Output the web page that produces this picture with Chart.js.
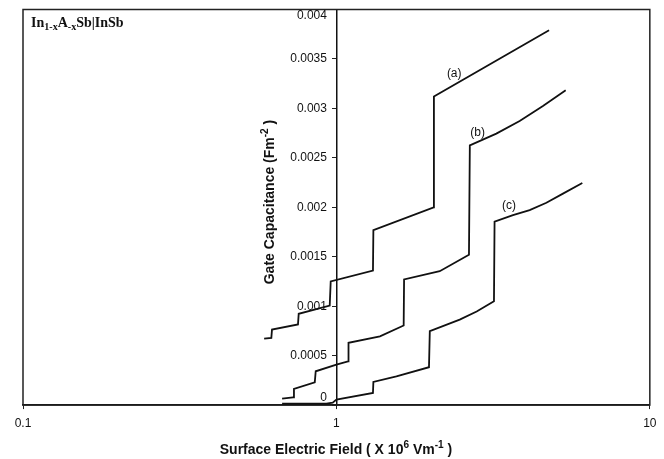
<!DOCTYPE html>
<html>
<head>
<meta charset="utf-8">
<script src="https://cdn.jsdelivr.net/npm/chart.js@4.4.1/dist/chart.umd.min.js"></script>
<style>
  html, body { margin: 0; padding: 0; background: #fff; }
</style>
</head>
<body>
<canvas id="capChart" width="664" height="459"></canvas>
<script>
// curve (a)
var fieldA = [0.588, 0.620, 0.623, 0.754, 0.758, 0.952, 0.959, 1.308, 1.312, 2.043, 2.047, 4.77];
var capA   = [0.000673, 0.00068, 0.000764, 0.000815, 0.000923, 0.001007, 0.00125, 0.00136, 0.00177, 0.0020, 0.00312, 0.00379];

// curve (b)
var fieldB = [0.671, 0.727, 0.732, 0.853, 0.859, 1.0, 1.089, 1.093, 1.377, 1.639, 1.644, 2.136, 2.648, 2.665, 3.238, 3.843, 4.56, 5.39];
var capB   = [0.000066, 0.000079, 0.000164, 0.000231, 0.000342, 0.00041, 0.000443, 0.00063, 0.000696, 0.000805, 0.00127, 0.001354, 0.00152, 0.002626, 0.002745, 0.002873, 0.003024, 0.003183];

// curve (c)
var fieldC = [0.671, 0.929, 0.973, 1.0, 1.308, 1.312, 1.554, 1.974, 1.986, 2.474, 2.802, 3.182, 3.196, 3.659, 4.136, 4.677, 5.283, 6.09];
var capC   = [0.000015, 0.000015, 0.000025, 0.000056, 0.000123, 0.000235, 0.000291, 0.000383, 0.000747, 0.000865, 0.000946, 0.00105, 0.001854, 0.001921, 0.001972, 0.002046, 0.002138, 0.002245];

// curve name tags, placed in data coordinates
var curveNames = ['(a)', '(b)', '(c)'];
var nameField  = [2.376, 2.823, 3.553];
var nameCap    = [0.003355, 0.002758, 0.002016];

var xTicks = [0.1, 1, 10];
var yTicks = [0, 0.0005, 0.001, 0.0015, 0.002, 0.0025, 0.003, 0.0035, 0.004];

var sansFont = "Arial, 'Liberation Sans', sans-serif";
var serifFont = "'Times New Roman', 'Liberation Serif', serif";

function toPoints(xs, ys) {
  return xs.map(function (v, i) { return { x: v, y: ys[i] }; });
}

function curve(label, xs, ys) {
  return {
    label: label,
    data: toPoints(xs, ys),
    borderColor: '#111',
    borderWidth: 1.8,
    pointRadius: 0,
    tension: 0,
    borderJoinStyle: 'miter',
    fill: false
  };
}

// text with superscript (1) / subscript (-1) pieces
function richWidth(ctx, parts, size, family, weight) {
  var w = 0;
  parts.forEach(function (p) {
    var s = p[1] === 0 ? size : size * 0.72;
    ctx.font = weight + ' ' + s + 'px ' + family;
    w += ctx.measureText(p[0]).width;
  });
  return w;
}

function drawRich(ctx, parts, x, y, size, family, weight, shift) {
  var cx = x;
  parts.forEach(function (p) {
    var s = p[1] === 0 ? size : size * 0.72;
    ctx.font = weight + ' ' + s + 'px ' + family;
    var dy = p[1] === 1 ? -shift : (p[1] === -1 ? shift * 0.6 : 0);
    ctx.fillText(p[0], cx, y + dy);
    cx += ctx.measureText(p[0]).width;
  });
}

var decorPlugin = {
  id: 'decor',
  beforeDatasetsDraw: function (chart) {
    var ctx = chart.ctx, a = chart.chartArea;
    ctx.save();
    ctx.strokeStyle = '#222';
    ctx.lineWidth = 1.5;
    ctx.strokeRect(a.left, a.top, a.right - a.left, a.bottom - a.top);
    ctx.restore();
  },
  afterDraw: function (chart) {
    var ctx = chart.ctx, a = chart.chartArea;
    var xs = chart.scales.x, ys = chart.scales.y;
    ctx.save();
    ctx.fillStyle = '#111';

    // y tick labels, kept inside the plot box like the original
    var axisX = xs.getPixelForValue(1);
    ctx.font = '12px ' + sansFont;
    ctx.textAlign = 'right';
    ctx.textBaseline = 'middle';
    yTicks.forEach(function (v) {
      var py = ys.getPixelForValue(v);
      py = Math.min(Math.max(py, a.top + 6), a.bottom - 7);
      ctx.fillText(String(v), axisX - 9.5, py);
    });

    ctx.textBaseline = 'alphabetic';
    ctx.textAlign = 'left';

    // material label, top left
    var mat = [['In', 0], ['1-x', -1], ['A', 0], ['-x', -1], ['Sb|InSb', 0]];
    drawRich(ctx, mat, 31, 27, 14, serifFont, 'bold', 5);

    // x title
    var xt = [['Surface Electric Field ( X 10', 0], ['6', 1], [' Vm', 0], ['-1', 1], [' )', 0]];
    var w = richWidth(ctx, xt, 14, sansFont, 'bold');
    drawRich(ctx, xt, 336 - w / 2, 454, 14, sansFont, 'bold', 6.5);

    // y title
    var yt = [['Gate Capacitance (Fm', 0], ['-2', 1], [' )', 0]];
    w = richWidth(ctx, yt, 14, sansFont, 'bold');
    ctx.save();
    ctx.translate(274, 202);
    ctx.rotate(-Math.PI / 2);
    drawRich(ctx, yt, -w / 2, 0, 14, sansFont, 'bold', 6.5);
    ctx.restore();

    // curve names
    ctx.font = '12px ' + sansFont;
    ctx.textAlign = 'center';
    ctx.textBaseline = 'middle';
    curveNames.forEach(function (n, i) {
      ctx.fillText(n, xs.getPixelForValue(nameField[i]), ys.getPixelForValue(nameCap[i]));
    });
    ctx.restore();
  }
};

Chart.defaults.font.family = sansFont;

var capChart = new Chart(document.getElementById('capChart'), {
  type: 'line',
  data: {
    datasets: [
      curve('(a)', fieldA, capA),
      curve('(b)', fieldB, capB),
      curve('(c)', fieldC, capC)
    ]
  },
  options: {
    responsive: false,
    animation: false,
    layout: { padding: { left: 23, right: 14, top: 9.5, bottom: 20.5 } },
    plugins: {
      legend: { display: false },
      tooltip: { enabled: false }
    },
    scales: {
      x: {
        type: 'logarithmic',
        position: 'bottom',
        min: 0.1,
        max: 10,
        afterBuildTicks: function (scale) {
          scale.ticks = xTicks.map(function (v) { return { value: v }; });
        },
        grid: { drawOnChartArea: false, tickLength: 4, color: '#222' },
        border: { color: '#111', width: 1.5 },
        ticks: {
          color: '#111', font: { size: 12 }, padding: 7.5, autoSkip: false, maxRotation: 0,
          callback: function (v) { return String(v); }
        }
      },
      y: {
        type: 'linear',
        position: { x: 1 },
        min: 0,
        max: 0.004,
        afterBuildTicks: function (scale) {
          scale.ticks = yTicks.map(function (v) { return { value: v }; });
        },
        grid: { drawOnChartArea: false, tickLength: 4, color: '#222' },
        border: { color: '#111', width: 1.5 },
        ticks: { display: false }
      }
    }
  },
  plugins: [decorPlugin]
});
</script>
</body>
</html>
